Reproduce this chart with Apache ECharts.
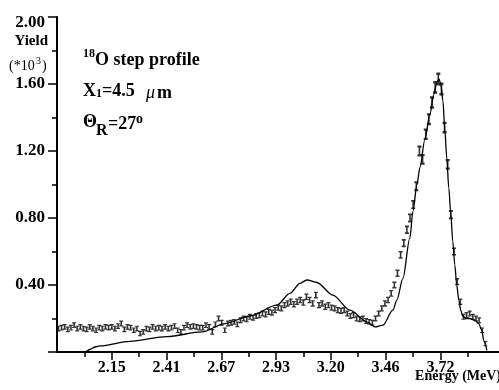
<!DOCTYPE html>
<html><head><meta charset="utf-8">
<script src="https://cdn.jsdelivr.net/npm/echarts@6/dist/echarts.min.js"></script>
<style>html,body{margin:0;padding:0;background:#fff}#c{width:499px;height:390px}</style>
</head><body><div id="c"></div>
<script>
// Measured spectrum: channel energies (MeV) from calibration start + step, yields (*10^3)
const energyStart = 1.895;
const energyStep = 0.015;
const measuredYield = [
  0.14,0.145,0.15,0.135,0.145,0.16,0.14,0.15,0.14,0.135,
  0.15,0.14,0.13,0.145,0.14,0.15,0.145,0.15,0.14,0.155,
  0.17,0.135,0.15,0.145,0.13,0.14,0.11,0.12,0.14,0.135,
  0.15,0.14,0.145,0.14,0.15,0.14,0.145,0.155,0.13,0.12,
  0.145,0.16,0.15,0.155,0.15,0.145,0.145,0.16,0.15,0.12,
  0.165,0.2,0.175,0.13,0.17,0.175,0.18,0.165,0.19,0.2,
  0.195,0.21,0.205,0.215,0.22,0.23,0.225,0.24,0.235,0.25,
  0.265,0.26,0.28,0.29,0.3,0.285,0.3,0.31,0.295,0.33,
  0.31,0.29,0.34,0.28,0.29,0.27,0.28,0.265,0.26,0.25,
  0.245,0.25,0.23,0.215,0.22,0.2,0.195,0.2,0.185,0.18,
  0.175,0.2,0.23,0.26,0.29,0.31,0.35,0.4,0.47,0.58,
  0.65,0.73,0.8,0.88,0.99,1.2,1.15,1.3,1.39,1.49,
  1.58,1.63,1.57,1.34,1.12,0.82,0.6,0.42,0.3,0.21,
  0.22,0.23,0.21,0.2,0.19,0.13,0.05
];
// Simulated step profile (solid line)
const simEnergy = [1.888,2.022,2.045,2.07,2.094,2.237,2.414,2.581,2.691,2.81,
  2.939,3.001,3.049,3.082,3.13,3.206,3.288,3.369,3.407,3.445,
  3.493,3.512,3.541,3.574,3.589,3.608,3.622,3.646,3.67,3.689,
  3.703,3.713,3.722,3.732,3.741,3.751,3.76,3.77,3.779,3.789,
  3.798,3.808,3.817,3.827,3.841,3.86,3.884,3.903,3.918,3.927,3.942];
const simYield = [0,0,0.015,0.03,0.036,0.064,0.092,0.12,0.17,0.215,
  0.28,0.35,0.41,0.43,0.415,0.34,0.25,0.18,0.15,0.16,
  0.25,0.31,0.44,0.68,0.84,1.0,1.1,1.27,1.42,1.54,
  1.61,1.63,1.60,1.50,1.33,1.15,0.98,0.82,0.66,0.52,
  0.40,0.31,0.25,0.215,0.2,0.2,0.19,0.17,0.13,0.07,0.01];
const xTickLabels = ["2.15","2.41","2.67","2.93","3.20","3.46","3.72"];
const yTickLabels = ["0.40","0.80","1.20","1.60","2.00"];
const yTickValues = [0.4,0.8,1.2,1.6,2.0];

const xAxisMin = 1.8883, xAxisMax = 4.0;
const xFirst = 2.15, xLast = 3.72;
const xStep = (xLast - xFirst) / (xTickLabels.length - 1);
const xTickValues = xTickLabels.map((_, i) => xFirst + i * xStep);
const xMinorValues = [];
for (let i = 0; i <= xTickLabels.length; i++) xMinorValues.push(xFirst - xStep / 2 + i * xStep);

const measured = measuredYield.map((y, i) => [energyStart + i * energyStep, y]);
const sim = simEnergy.map((e, i) => [e, simYield[i]]);

const FONT = '"Liberation Serif", "DejaVu Serif", serif';
const chart = echarts.init(document.getElementById('c'), null, {renderer: 'canvas'});
function txt(text, x, y, font, align) {
  return {type: 'text', z: 100, style: {text: text, x: x, y: y, font: font + ' ' + FONT, fill: '#000',
    textAlign: align || 'left', textVerticalAlign: 'middle'}};
}
const option = {
  animation: false,
  backgroundColor: '#fff',
  grid: {left: 57, right: 0, top: 17, bottom: 38, containLabel: false},
  xAxis: [{
    type: 'value', min: xAxisMin, max: xAxisMax,
    axisLine: {show: true, onZero: false, lineStyle: {color: '#000', width: 2}},
    axisTick: {show: true, customValues: xTickValues, length: 8, lineStyle: {color: '#000', width: 1.5}},
    axisLabel: {show: true, customValues: xTickValues, margin: 8, color: '#000', fontFamily: FONT,
      fontSize: 16, fontWeight: 'bold',
      formatter: v => { const k = xTickValues.findIndex(t => Math.abs(t - v) < 1e-6); return k >= 0 ? xTickLabels[k] : ''; }},
    splitLine: {show: false}
  }, {
    type: 'value', min: xAxisMin, max: xAxisMax, position: 'bottom',
    axisLine: {show: false, onZero: false},
    axisTick: {show: true, customValues: xMinorValues, length: 5, lineStyle: {color: '#000', width: 1.5}},
    axisLabel: {show: false}, splitLine: {show: false}
  }],
  yAxis: {
    type: 'value', min: 0, max: 2, interval: 0.4,
    axisLine: {show: true, lineStyle: {color: '#000', width: 2}},
    axisTick: {show: true, length: 9, lineStyle: {color: '#000', width: 1.5}},
    minorTick: {show: true, splitNumber: 2, length: 5, lineStyle: {color: '#000', width: 1.5}},
    splitLine: {show: false}, minorSplitLine: {show: false},
    axisLabel: {margin: 12, color: '#000', fontFamily: FONT, fontSize: 17, fontWeight: 'bold',
      formatter: v => {
        const k = yTickValues.findIndex(t => Math.abs(t - v) < 1e-6);
        if (k < 0) return '';
        return k === yTickValues.length - 1 ? '{top|' + yTickLabels[k] + '}' : yTickLabels[k];
      },
      rich: {top: {padding: [12, 0, 0, 0], fontFamily: FONT, fontSize: 17, fontWeight: 'bold', color: '#000'}}
    }
  },
  series: [{
    type: 'line', data: sim, showSymbol: false, smooth: 0.3, smoothMonotone: 'x',
    lineStyle: {color: '#000', width: 1.3}, z: 2
  }, {
    type: 'scatter', data: measured,
    symbol: 'path://M0,0H5V2H3.5V8H5V10H0V8H1.5V2H0Z',
    symbolSize: v => [4, 5 + 5 * v[1]],
    itemStyle: {color: '#000'}, z: 3
  }],
  graphic: [
    txt('Yield', 48, 41, 'bold 15px', 'right'),
    txt('(*10', 9, 66, '14px'),
    txt('3', 36, 61, '10px'),
    txt(')', 42, 66, '14px'),
    txt('18', 83, 53.5, 'bold 12px'),
    txt('O step profile', 95, 60, 'bold 18px'),
    txt('X', 83, 91, 'bold 18px'),
    txt('1', 96, 93.5, 'bold 12px'),
    txt('=4.5', 102, 91, 'bold 18px'),
    txt('\u03bc', 146, 93, 'italic 18px'),
    txt('m', 157, 93, 'bold 18px'),
    txt('\u0398', 83, 122.5, 'bold 18px'),
    txt('R', 96, 131, 'bold 16px'),
    txt('=27', 108, 124, 'bold 18px'),
    txt('o', 136, 119, 'bold 14px'),
    txt('Energy (MeV)', 501, 376, 'bold 14px', 'right')
  ]
};
chart.setOption(option);
</script></body></html>
